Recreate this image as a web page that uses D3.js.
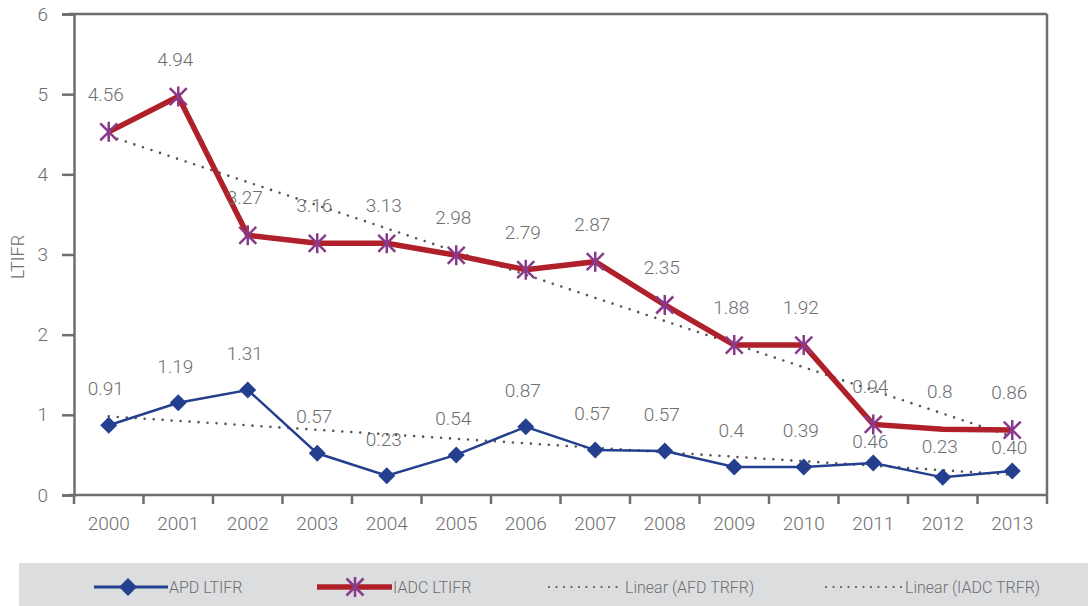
<!DOCTYPE html>
<html><head><meta charset="utf-8">
<script src="https://cdn.jsdelivr.net/npm/d3@7"></script>
<style>
html,body{margin:0;padding:0;background:#fff;}
svg{display:block;}
text{font-family:Roboto,"Liberation Sans",sans-serif;fill:#6d6e71;font-weight:300;}
</style></head>
<body>
<svg id="c" width="1088" height="606"></svg>
<script>
const years = ["2000","2001","2002","2003","2004","2005","2006","2007","2008","2009","2010","2011","2012","2013"];
// plotted positions
const apdValues  = [0.87,1.15,1.31,0.52,0.24,0.50,0.85,0.56,0.55,0.35,0.35,0.40,0.22,0.30];
const iadcValues = [4.53,4.97,3.24,3.14,3.14,2.99,2.81,2.91,2.37,1.87,1.87,0.88,0.82,0.81];
// printed data labels
const apdLabels  = ["0.91","1.19","1.31","0.57","0.23","0.54","0.87","0.57","0.57","0.4","0.39","0.46","0.23","0.40"];
const iadcLabels = ["4.56","4.94","3.27","3.16","3.13","2.98","2.79","2.87","2.35","1.88","1.92","0.94","0.8","0.86"];
const iadcMarker = [true,true,true,true,true,true,true,true,true,true,true,true,false,true];
const yTicks = [0,1,2,3,4,5,6];
const legendItems = ["APD LTIFR","IADC LTIFR","Linear (AFD TRFR)","Linear (IADC TRFR)"];

const svg = d3.select("#c");
const L = 74, R = 1047, T = 14, B = 495;
const axisColor = "#6d6e71";
const blue = "#253f8f", red = "#b0202a", purple = "#8b3a8b", dotC = "#555";

const x = d3.scaleBand().domain(years).range([L, R]);
const y = d3.scaleLinear().domain([0, 6]).range([B, T]);
const cx = d => x(d) + x.bandwidth() / 2;

// frame
svg.append("line").attr("x1", L - 5).attr("x2", R).attr("y1", T).attr("y2", T)
  .attr("stroke", axisColor).attr("stroke-width", 2.5);
svg.append("line").attr("x1", R).attr("x2", R).attr("y1", T).attr("y2", B)
  .attr("stroke", axisColor).attr("stroke-width", 2.5);

// y axis
const ya = svg.append("g").attr("transform", `translate(${L},0)`)
  .call(d3.axisLeft(y).tickValues(yTicks).tickSize(12).tickPadding(14).tickFormat(d3.format("d")));
ya.select(".domain").attr("stroke", axisColor).attr("stroke-width", 2.5);
ya.selectAll(".tick line").attr("stroke", axisColor).attr("stroke-width", 2.5);
ya.selectAll(".tick text").attr("font-size", 19).attr("fill", axisColor)
  .style("font-family", "Roboto").style("font-weight", 300);

// x axis
const xa = svg.append("g").attr("transform", `translate(0,${B})`)
  .call(d3.axisBottom(x).tickSize(0).tickPadding(22));
xa.select(".domain").remove();
xa.selectAll(".tick text").attr("font-size", 19).attr("fill", axisColor)
  .style("font-family", "Roboto").style("font-weight", 300);
svg.append("line").attr("x1", L - 5).attr("x2", R).attr("y1", B).attr("y2", B)
  .attr("stroke", axisColor).attr("stroke-width", 2.5);
const bounds = years.map(d => x(d)).concat([R]);
svg.selectAll(".xt").data(bounds).enter().append("line")
  .attr("x1", d => d).attr("x2", d => d).attr("y1", B).attr("y2", B + 9)
  .attr("stroke", axisColor).attr("stroke-width", 2.5);

// y label
svg.append("text").attr("transform", `translate(24,257) rotate(-90)`)
  .attr("text-anchor", "middle").attr("font-size", 18).text("LTIFR");

// trend lines (least squares fit of the reported values)
function fit(vals) {
  const n = vals.length, xs = d3.range(n);
  const mx = d3.mean(xs), my = d3.mean(vals);
  const s = d3.sum(xs, i => (i - mx) * (vals[i] - my)) / d3.sum(xs, i => (i - mx) * (i - mx));
  return [my - s * mx, my + s * (n - 1 - mx)];
}
function trend(labels) {
  const [a, b] = fit(labels.map(Number));
  svg.append("line")
    .attr("x1", cx(years[0])).attr("y1", y(a))
    .attr("x2", cx(years[years.length - 1])).attr("y2", y(b))
    .attr("stroke", dotC).attr("stroke-width", 2.6)
    .attr("stroke-linecap", "round").attr("stroke-dasharray", "0 9");
}
trend(apdLabels);
trend(iadcLabels);

// lines
const line = d3.line().x((d, i) => cx(years[i])).y(d => y(d));
svg.append("path").datum(apdValues).attr("d", line)
  .attr("fill", "none").attr("stroke", blue).attr("stroke-width", 2.5);
svg.append("path").datum(iadcValues).attr("d", line)
  .attr("fill", "none").attr("stroke", red).attr("stroke-width", 5.5);

// markers
const diamond = s => `M0,${-s}L${s},0L0,${s}L${-s},0Z`;
svg.selectAll(".dm").data(apdValues).enter().append("path")
  .attr("transform", (d, i) => `translate(${cx(years[i])},${y(d)})`)
  .attr("d", diamond(8.5)).attr("fill", blue);

function asterisk(g, s) {
  g.append("path")
    .attr("d", `M0,${-s}V${s}M${-s*0.85},${-s*0.85}L${s*0.85},${s*0.85}M${s*0.85},${-s*0.85}L${-s*0.85},${s*0.85}`)
    .attr("stroke", purple).attr("stroke-width", 2.5).attr("fill", "none");
}
iadcValues.forEach((d, i) => {
  if (!iadcMarker[i]) return;
  const g = svg.append("g").attr("transform", `translate(${cx(years[i])},${y(d)})`);
  asterisk(g, 10);
});

// data labels (APD labels are pushed below the IADC line when they would collide with it)
svg.selectAll(".la").data(apdLabels).enter().append("text")
  .attr("x", (d, i) => cx(years[i]) - 3)
  .attr("y", (d, i) => Math.max(y(apdValues[i]) - 30, y(iadcValues[i]) + 24))
  .attr("text-anchor", "middle").attr("font-size", 19).text(d => d);
svg.selectAll(".li").data(iadcLabels).enter().append("text")
  .attr("x", (d, i) => cx(years[i]) - 3).attr("y", (d, i) => y(iadcValues[i]) - 31)
  .attr("text-anchor", "middle").attr("font-size", 19).text(d => d);

// legend
svg.append("rect").attr("x", 19).attr("y", 563).attr("width", 1069).attr("height", 43).attr("fill", "#dcdddf");
const ly = 587;
const lg = svg.append("g");
lg.append("line").attr("x1", 94).attr("x2", 168).attr("y1", ly).attr("y2", ly).attr("stroke", blue).attr("stroke-width", 3);
lg.append("path").attr("transform", `translate(128,${ly})`).attr("d", diamond(9)).attr("fill", blue);
lg.append("line").attr("x1", 317).attr("x2", 392).attr("y1", ly).attr("y2", ly).attr("stroke", red).attr("stroke-width", 5.5);
asterisk(lg.append("g").attr("transform", `translate(355,${ly})`), 10);
[[549, 624], [826, 902]].forEach(([a, b]) => {
  lg.append("line").attr("x1", a).attr("x2", b).attr("y1", ly).attr("y2", ly)
    .attr("stroke", dotC).attr("stroke-width", 2.2).attr("stroke-linecap", "round").attr("stroke-dasharray", "0 7.5");
});
const lx = [169, 393, 625, 905];
lg.selectAll(".lt").data(legendItems).enter().append("text")
  .attr("x", (d, i) => lx[i]).attr("y", ly + 6).attr("font-size", 16).text(d => d);
</script>
</body></html>
